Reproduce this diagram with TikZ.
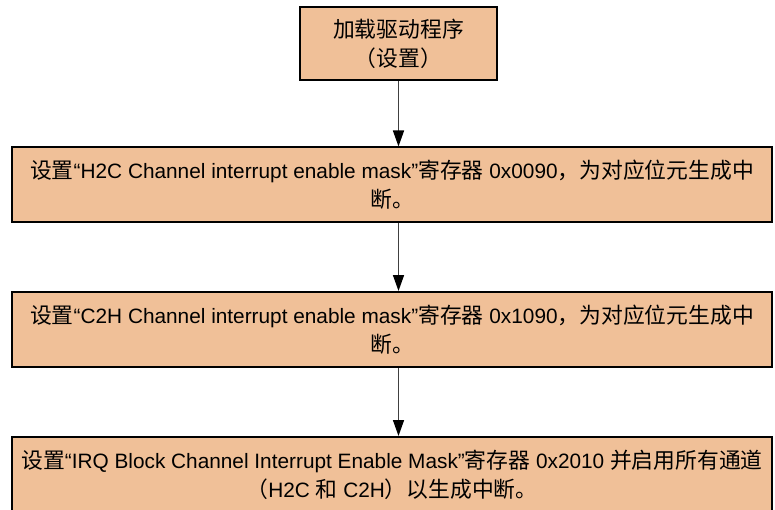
\documentclass[tikz,border=0pt]{standalone}
\usepackage{fontspec}
\setmainfont{Liberation Sans}
\newfontfamily\cjk{Noto Sans CJK SC}
\usetikzlibrary{arrows.meta}
\definecolor{boxfill}{RGB}{240,192,152}
\definecolor{arrowgray}{RGB}{64,64,64}
\tikzset{
  flowbox/.style={draw=black, line width=2pt, fill=boxfill, align=center,
    font=\fontsize{20.8}{29}\selectfont, inner sep=0pt},
  flowarrow/.style={draw=arrowgray, line width=1.5pt, -{Triangle[length=16pt,width=11pt,fill=black,color=black]}}
}
\newcommand{\zh}[1]{{\cjk\fontsize{21.8}{29}\selectfont #1}}
\begin{document}
\begin{tikzpicture}[x=1pt,y=-1pt]
\useasboundingbox (0,0) rectangle (775,510);
\fill[white] (0,0) rectangle (775,510);
\node[flowbox, minimum width=197pt, minimum height=73pt] (load) at (398.5,43.5)
  {\zh{加载驱动程序}\\\zh{（设置）}};
\node[flowbox, minimum width=760pt, minimum height=75pt] (h2c) at (392,185)
  {\zh{设置}“H2C Channel interrupt enable mask”\zh{寄存器} 0x0090\zh{，为对应位元生成中}\\\zh{断。}};
\node[flowbox, minimum width=760pt, minimum height=75pt] (c2h) at (392,329.5)
  {\zh{设置}“C2H Channel interrupt enable mask”\zh{寄存器} 0x1090\zh{，为对应位元生成中}\\\zh{断。}};
\node[flowbox, minimum width=760pt, minimum height=75pt] (irq) at (392,474.5)
  {\zh{设置}“IRQ Block Channel Interrupt Enable Mask”\zh{寄存器} 0x2010 \zh{并启用所有通道}\\\zh{（}H2C \zh{和} C2H\zh{）以生成中断。}};
\draw[flowarrow] (load.south) -- (load.south |- h2c.north);
\draw[flowarrow] (load.south |- h2c.south) -- (load.south |- c2h.north);
\draw[flowarrow] (load.south |- c2h.south) -- (load.south |- irq.north);
\end{tikzpicture}
\end{document}
